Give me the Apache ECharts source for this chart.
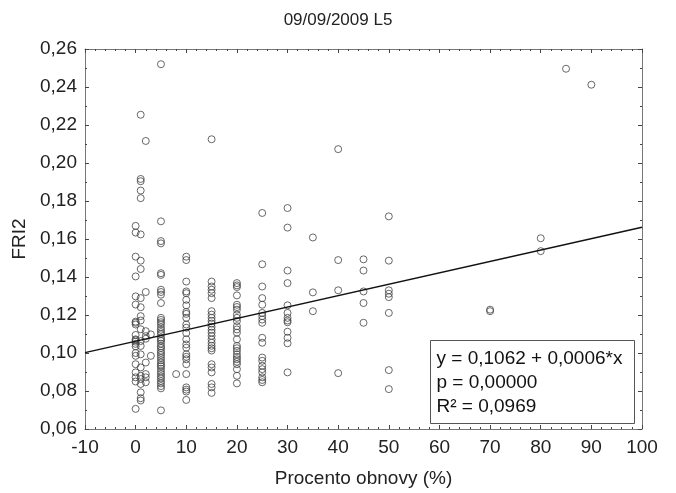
<!DOCTYPE html>
<html>
<head>
<meta charset="utf-8">
<script src="https://cdn.jsdelivr.net/npm/echarts@6/dist/echarts.min.js"></script>
<style>
    html, body { margin: 0; padding: 0; background: #fff; }
    #chart { width: 676px; height: 493px; }
</style>
</head>
<body>
<div id="chart"></div>
<script>
// Procento obnovy (%) for every column of points
var obnova = [0, 1, 2, 3, 5, 8, 10, 15, 20, 25, 30, 35, 40, 45, 50, 70, 80, 85, 90];
// FRI2 values, one list per column above
var fri2 = [
    [0.1669, 0.1634, 0.1507, 0.1403, 0.1298, 0.1255, 0.1165, 0.1159, 0.115, 0.1095, 0.1072, 0.1068, 0.106, 0.1048, 0.1035, 0.1, 0.0985, 0.0941, 0.0898, 0.0872, 0.085, 0.0706],
    [0.2254, 0.1916, 0.1904, 0.1855, 0.1815, 0.1624, 0.1486, 0.1442, 0.1289, 0.1241, 0.1194, 0.1171, 0.1125, 0.1063, 0.1037, 0.0993, 0.0924, 0.088, 0.0863, 0.0837, 0.0793, 0.0762, 0.075],
    [0.2116, 0.1321, 0.1115, 0.1089, 0.1075, 0.095, 0.0889, 0.0872, 0.0846],
    [0.1098, 0.0985],
    [0.252, 0.1693, 0.1589, 0.1577, 0.142, 0.1411, 0.1333, 0.1321, 0.1307, 0.1263, 0.1185, 0.1174, 0.1162, 0.1151, 0.1135, 0.1122, 0.111, 0.1099, 0.1081, 0.1072, 0.1063, 0.1049, 0.1035, 0.1026, 0.1012, 0.1001, 0.0989, 0.0975, 0.0962, 0.095, 0.0938, 0.093, 0.0917, 0.0903, 0.089, 0.0877, 0.0866, 0.0852, 0.084, 0.0826, 0.0814, 0.0698],
    [0.0889],
    [0.1507, 0.1489, 0.1376, 0.1324, 0.1315, 0.128, 0.1251, 0.1216, 0.1206, 0.1185, 0.115, 0.1133, 0.1105, 0.1072, 0.1045, 0.1028, 0.0993, 0.098, 0.0967, 0.0941, 0.0889, 0.0819, 0.0807, 0.0797, 0.0753],
    [0.2125, 0.1376, 0.135, 0.1333, 0.1315, 0.1289, 0.122, 0.1202, 0.1185, 0.1169, 0.1155, 0.1138, 0.1122, 0.1107, 0.109, 0.1071, 0.1054, 0.1038, 0.1025, 0.1013, 0.0941, 0.0924, 0.0898, 0.0837, 0.0819, 0.079],
    [0.1368, 0.1356, 0.1347, 0.1303, 0.1254, 0.1242, 0.1228, 0.1202, 0.1185, 0.1168, 0.1141, 0.1124, 0.1107, 0.1072, 0.1037, 0.1025, 0.1011, 0.0993, 0.0979, 0.0967, 0.0954, 0.0941, 0.0915, 0.088, 0.084],
    [0.1737, 0.1467, 0.135, 0.1289, 0.1254, 0.1211, 0.1194, 0.1176, 0.1159, 0.108, 0.1054, 0.0976, 0.0959, 0.0933, 0.0915, 0.0898, 0.0872, 0.0858, 0.0846],
    [0.1763, 0.166, 0.1434, 0.1368, 0.1251, 0.1211, 0.1185, 0.1171, 0.1162, 0.1112, 0.108, 0.1051, 0.0898],
    [0.1608, 0.1319, 0.122],
    [0.2073, 0.1489, 0.133, 0.0894],
    [0.1493, 0.1434, 0.1324, 0.1263, 0.1159],
    [0.1719, 0.1486, 0.133, 0.1312, 0.1294, 0.1211, 0.091, 0.081],
    [0.1228, 0.122],
    [0.1604, 0.1536],
    [0.2496],
    [0.2412]
];
// regression printed in the box
var intercept = 0.1062;
var slope = 0.0006;
var statLines = ['y = 0,1062 + 0,0006*x', 'p = 0,00000', 'R\u00b2 = 0,0969'];

var points = [];
for (var i = 0; i < obnova.length; i++) {
    for (var j = 0; j < fri2[i].length; j++) {
        points.push([obnova[i], fri2[i][j]]);
    }
}
var fitLine = [[-10, intercept + slope * -10], [100, intercept + slope * 100]];

function comma(v) {
    return v.toFixed(2).replace('.', ',');
}

var font = 'Liberation Sans, Arial, sans-serif';
var lineColor = '#777';
var tickColor = '#444';

var myChart = echarts.init(document.getElementById('chart'));
myChart.setOption({
    animation: false,
    title: {
        text: '09/09/2009 L5',
        left: 'center',
        top: 7,
        textStyle: { fontFamily: font, fontSize: 17, fontWeight: 'normal', color: '#222' }
    },
    grid: { left: 85, right: 34, top: 49, bottom: 61 },
    xAxis: [{
        type: 'value',
        min: -10, max: 100, interval: 10,
        name: 'Procento obnovy (%)',
        nameLocation: 'middle',
        nameGap: 40,
        nameTextStyle: { fontFamily: font, fontSize: 19, color: '#222' },
        axisLine: { onZero: false, lineStyle: { color: lineColor } },
        axisTick: { inside: true, length: 4, lineStyle: { color: tickColor } },
        minorTick: { show: true, splitNumber: 5, length: 2, lineStyle: { color: tickColor } },
        axisLabel: { fontFamily: font, fontSize: 19, color: '#222', margin: 9 },
        splitLine: { show: false }
    }, {
        type: 'value', position: 'top',
        min: -10, max: 100, interval: 10,
        axisLine: { show: true, onZero: false, lineStyle: { color: lineColor } },
        axisTick: { inside: true, length: 4, lineStyle: { color: tickColor } },
        minorTick: { show: true, splitNumber: 5, length: 2, lineStyle: { color: tickColor } },
        axisLabel: { show: false },
        splitLine: { show: false }
    }],
    yAxis: [{
        type: 'value',
        min: 0.06, max: 0.26, interval: 0.02,
        name: 'FRI2',
        nameLocation: 'middle',
        nameGap: 55,
        nameTextStyle: { fontFamily: font, fontSize: 19, color: '#222' },
        axisLine: { show: true, onZero: false, lineStyle: { color: lineColor } },
        axisTick: { show: true, inside: true, length: 4, lineStyle: { color: tickColor } },
        minorTick: { show: true, splitNumber: 2, length: 2, lineStyle: { color: tickColor } },
        axisLabel: { fontFamily: font, fontSize: 19, color: '#222', margin: 8, formatter: comma },
        splitLine: { show: false }
    }, {
        type: 'value', position: 'right',
        min: 0.06, max: 0.26, interval: 0.02,
        axisLine: { show: true, onZero: false, lineStyle: { color: lineColor } },
        axisTick: { show: true, inside: true, length: 4, lineStyle: { color: tickColor } },
        minorTick: { show: true, splitNumber: 2, length: 2, lineStyle: { color: tickColor } },
        axisLabel: { show: false },
        splitLine: { show: false }
    }],
    series: [{
        type: 'scatter',
        data: points,
        symbol: 'circle',
        symbolSize: 7,
        itemStyle: { color: 'rgba(0,0,0,0)', borderColor: '#444', borderWidth: 1 },
        z: 2
    }, {
        type: 'line',
        data: fitLine,
        symbol: 'none',
        lineStyle: { color: '#111', width: 1.5 },
        z: 3
    }],
    graphic: {
        elements: [{
            type: 'group',
            left: 430,
            top: 340,
            z: 10,
            children: [{
                type: 'rect',
                shape: { x: 0, y: 0, width: 204, height: 83 },
                style: { fill: '#fff', stroke: '#555', lineWidth: 1 }
            }, {
                type: 'text',
                left: 6, top: 6,
                style: {
                    text: statLines.join('\n'),
                    font: '19px ' + font,
                    lineHeight: 24,
                    fill: '#111'
                }
            }]
        }]
    }
});
</script>
</body>
</html>
